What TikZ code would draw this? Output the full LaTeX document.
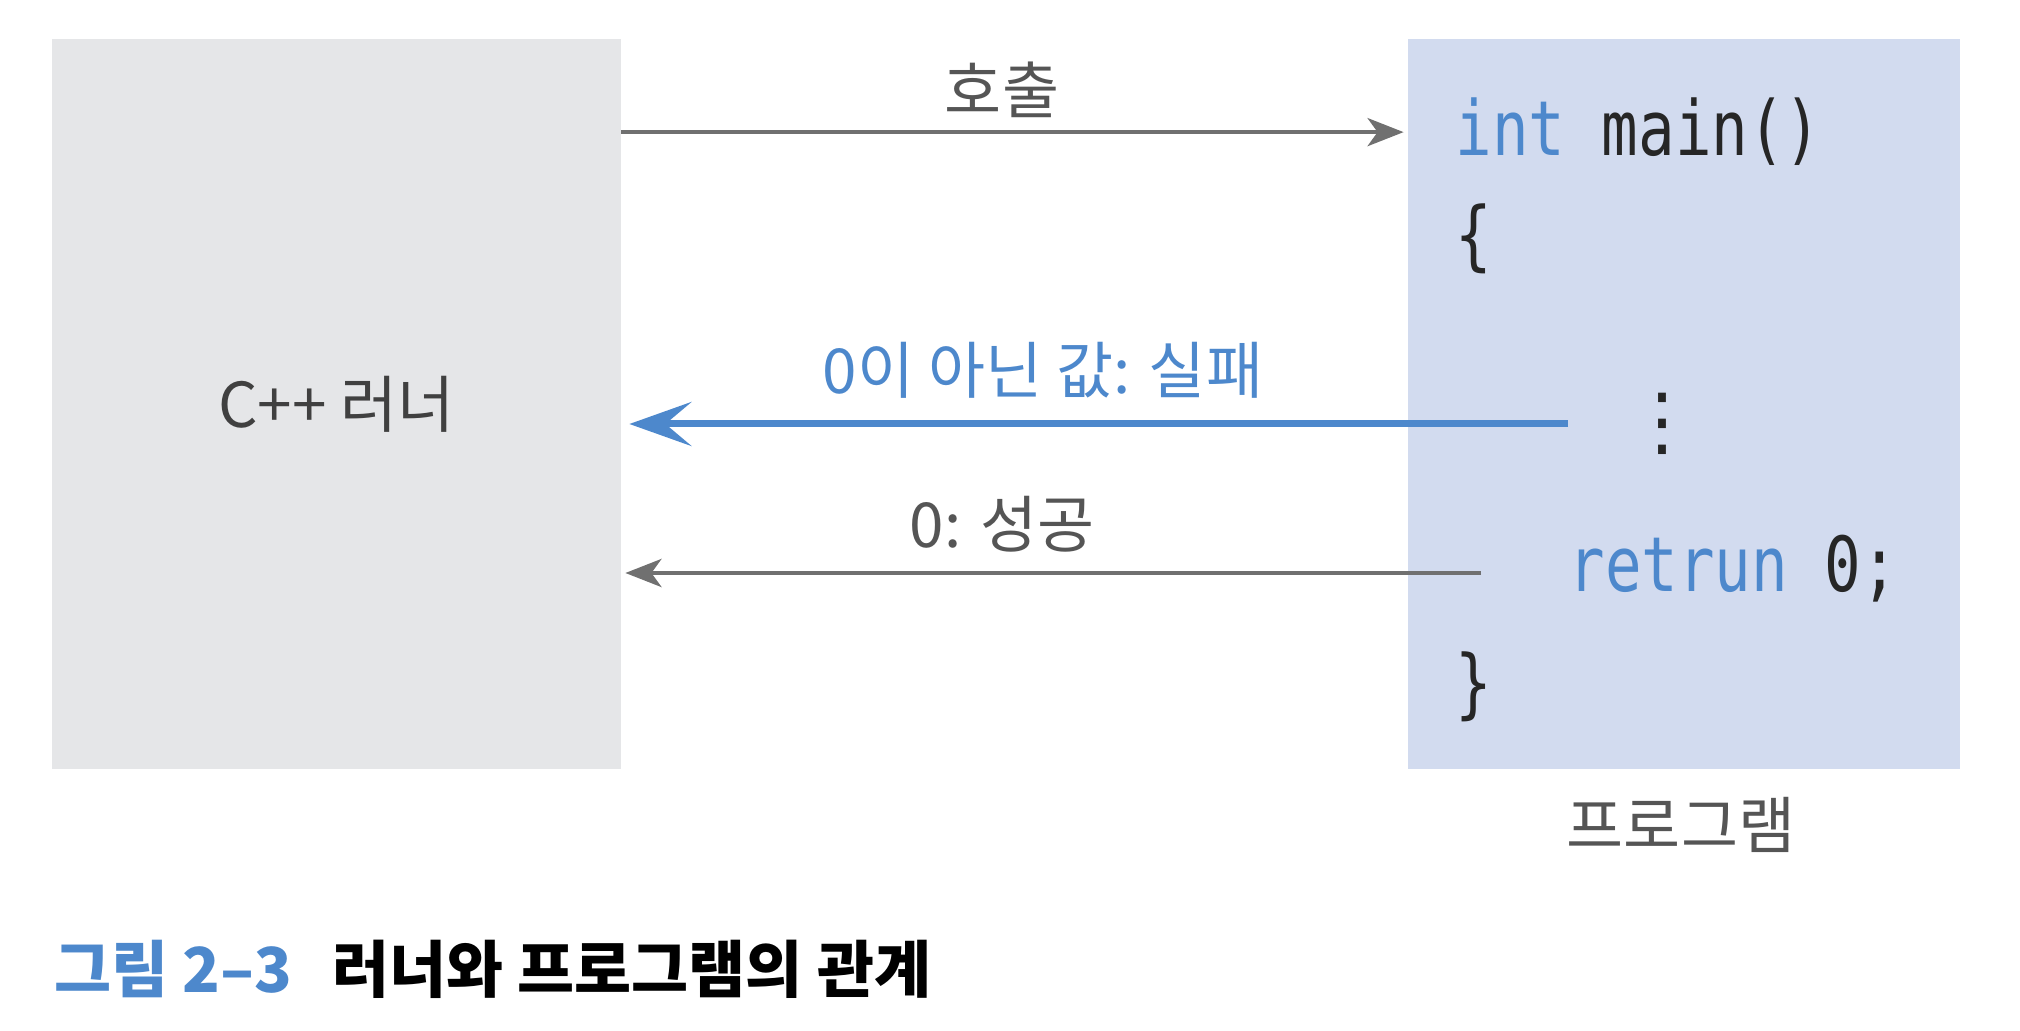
\documentclass[tikz,border=0pt]{standalone}
\usepackage{fontspec}
\setmainfont{Noto Sans CJK KR}
\newfontfamily\codefont[FakeStretch=0.8]{DejaVu Sans Mono}
\newfontfamily\dotsfont{DejaVu Sans}
\usetikzlibrary{arrows.meta}
\definecolor{runnergray}{HTML}{E5E6E8}
\definecolor{progblue}{HTML}{D2DBEF}
\definecolor{keyblue}{HTML}{4D88CC}
\definecolor{arrowgray}{HTML}{707070}
\definecolor{textgray}{HTML}{555555}
\begin{document}
\begin{tikzpicture}[x=0.5pt,y=-0.5pt]
    \tikzstyle{box} = [inner sep=0pt, minimum height=365pt]
    \tikzstyle{msgtext} = [inner sep=0pt, font=\fontsize{31}{36}\selectfont]
    \tikzstyle{code} = [inner sep=0pt, anchor=base west, text=black!85, font=\codefont\fontsize{38}{40}\selectfont]
    \tikzstyle{gray arrow} = [draw=arrowgray, line width=2.2pt, -{Stealth[length=18pt, width=14pt, inset=5pt]}, shorten >=2pt]
    \tikzstyle{blue arrow} = [draw=keyblue, line width=3.5pt, -{Stealth[length=31pt, width=22pt, inset=13pt]}, shorten >=4pt]
    \useasboundingbox (0,0) rectangle (2020,1031);
    % the two boxes
    \node[box, minimum width=284.5pt, fill=runnergray, text=black!75, font=\fontsize{31}{36}\selectfont] (runner) at (336.5,404) {C++ 러너};
    \node[box, minimum width=276pt, fill=progblue] (program) at (1684,404) {};
    % code in the program
    \node[code] (head) at (1455,156) {\textcolor{keyblue}{int} main()};
    \node[code] (open) at (1455,262) {\{};
    \node[inner sep=0pt, text=black!85, font=\dotsfont\fontsize{38}{40}\selectfont] (dots) at (1662,424) {⋮};
    \node[code] (ret) at (1568,592) {\textcolor{keyblue}{retrun} 0;};
    \node[code] (close) at (1455,710) {\}};
    \node[msgtext, text=textgray] (progname) at (1681,825) {프로그램};
    % calls and return values
    \coordinate (okstart) at (1481,573);
    \draw[gray arrow] (runner.east |- head) -- (program.west |- head);
    \draw[blue arrow] (ret.west |- dots) -- (runner.east |- dots);
    \draw[gray arrow] (okstart) -- (runner.east |- okstart);
    \node[msgtext, text=textgray] (calltext) at (1002,90) {호출};
    \node[msgtext, text=keyblue] (failtext) at (1043,370) {0이 아닌 값: 실패};
    \node[msgtext, text=textgray] (oktext) at (1002,524) {0: 성공};
    % caption
    \node[anchor=west, inner sep=0pt, text=keyblue, font=\bfseries\fontsize{31}{36}\selectfont] (capnum) at (54,969) {그림 2–3};
    \node[anchor=west, inner sep=0pt, font=\bfseries\fontsize{31}{36}\selectfont] (captext) at (332,969) {러너와 프로그램의 관계};
\end{tikzpicture}
\end{document}
